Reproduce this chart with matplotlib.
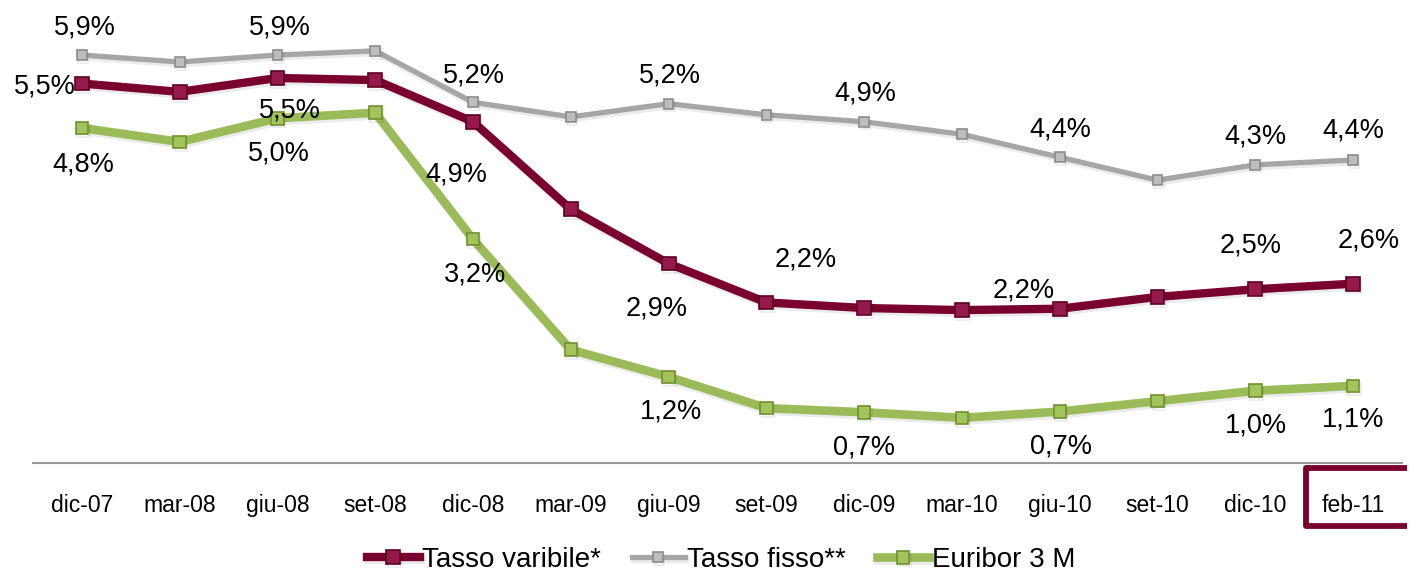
import numpy as np
import matplotlib
matplotlib.use('Agg')
import matplotlib.pyplot as plt
import matplotlib.patheffects as pe
from matplotlib.transforms import blended_transform_factory

plt.rcParams['font.family'] = ['Liberation Sans', 'DejaVu Sans']

# quarterly rates (%)
periods = ['dic-07', 'mar-08', 'giu-08', 'set-08', 'dic-08', 'mar-09', 'giu-09',
           'set-09', 'dic-09', 'mar-10', 'giu-10', 'set-10', 'dic-10', 'feb-11']
tasso_var = [5.46, 5.34, 5.54, 5.51, 4.91, 3.65, 2.87, 2.31, 2.23, 2.20, 2.22, 2.39, 2.50, 2.58]
tasso_fisso = [5.87, 5.77, 5.87, 5.93, 5.19, 4.98, 5.17, 5.01, 4.91, 4.73, 4.40, 4.07, 4.29, 4.36]
euribor = [4.82, 4.62, 4.96, 5.04, 3.22, 1.63, 1.24, 0.79, 0.73, 0.65, 0.74, 0.89, 1.04, 1.11]

# which points get a value label, and where the label sits (pixels from the point)
lab_fisso = {0: (3, 28), 2: (2, 28), 4: (1, 27), 6: (1, 28), 8: (1, 28),
             10: (1, 28), 12: (0, 28), 13: (0, 29)}
lab_var = {0: (-37, -3), 2: (12, -33), 4: (-17, -53), 6: (-12, -45),
           8: (-58, 49), 10: (-36, 18), 12: (-5, 44), 13: (16, 43)}
lab_eur = {0: (1, -36), 2: (1, -35), 4: (2, -35), 6: (2, -35), 8: (0, -35),
           10: (1, -35), 12: (1, -35), 13: (0, -34)}

fig = plt.figure(figsize=(14.1, 5.72), dpi=100)
ax = fig.add_axes([33 / 1410, 109 / 572, 1369 / 1410, 463 / 572])
x = np.arange(len(periods))

shadow = [pe.SimpleLineShadow(offset=(1, -2), shadow_color='k', alpha=0.08),
          pe.Normal()]

series = [
    (euribor, 'Euribor 3 M', '#9BBB59', 6.2, '#A3C45A', '#71902F', 9, lab_eur),
    (tasso_fisso, 'Tasso fisso**', '#A6A6A6', 3.8, '#BDBDBD', '#8C8C8C', 7, lab_fisso),
    (tasso_var, 'Tasso varibile*', '#7A0030', 6.0, '#96194C', '#5E0022', 10, lab_var),
]
handles = {}
for vals, name, col, lw, mfc, mec, ms, labs in series:
    ln, = ax.plot(x, vals, color=col, lw=lw, marker='s', ms=ms, mfc=mfc, mec=mec,
                  mew=1.2, solid_joinstyle='miter', label=name, path_effects=shadow)
    handles[name] = ln
    for i, (dx, dy) in labs.items():
        txt = f'{vals[i]:.1f}%'.replace('.', ',')
        ax.annotate(txt, (x[i], vals[i]), xytext=(dx, dy), textcoords='offset pixels',
                    ha='center', va='center', fontsize=19.5, color='black')

ax.set_xlim(-0.5, len(periods) - 0.5)
ax.set_ylim(0, 463 / 69.5)
ax.set_xticks(x)
ax.set_xticklabels(periods, fontsize=16.5)
ax.tick_params(axis='x', length=0, pad=22)
ax.set_yticks([])
for s in ['top', 'right', 'left']:
    ax.spines[s].set_visible(False)
ax.spines['bottom'].set_color('#9A9A9A')
ax.spines['bottom'].set_linewidth(1.5)

# open frame around the last period, running out to the right edge
tr = blended_transform_factory(ax.transData, ax.transAxes)
ax.plot([13.55, 12.52, 12.52, 13.55], [-5 / 463, -5 / 463, -63 / 463, -63 / 463],
        transform=tr, color='#7A0030', lw=4.2, clip_on=False,
        solid_joinstyle='round', solid_capstyle='butt')

order = ['Tasso varibile*', 'Tasso fisso**', 'Euribor 3 M']
fig.legend([handles[n] for n in order], order, loc='center',
           bbox_to_anchor=(0.5115, 12 / 572), ncol=3, frameon=False, fontsize=20,
           handlelength=1.9, handletextpad=0.1, columnspacing=1.1)

fig.savefig('out.png', dpi=100)
